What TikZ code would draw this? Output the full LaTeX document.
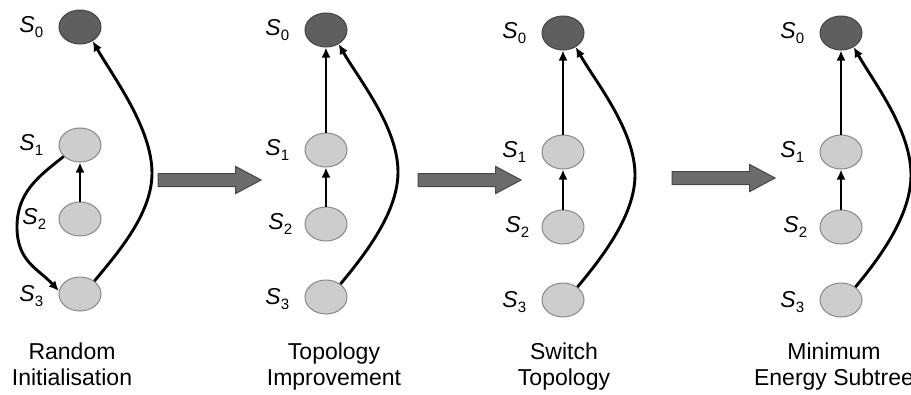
\documentclass[tikz,border=0pt]{standalone}
\usepackage{fontspec}
\setmainfont{Liberation Sans}
\usetikzlibrary{arrows.meta,shapes.geometric,shapes.arrows,calc}
\definecolor{rootfill}{HTML}{5F5F5F}
\definecolor{rootline}{HTML}{454545}
\definecolor{leaffill}{HTML}{CDCDCD}
\definecolor{leafline}{HTML}{8A8A8A}
\definecolor{bigfill}{HTML}{6C6C6C}
\definecolor{bigline}{HTML}{474747}
\newcommand\slab[1]{{\fontsize{23}{23}\selectfont\itshape S}\kern0.3pt\raisebox{-5pt}{\fontsize{15}{15}\selectfont #1}}
\tikzset{
  statenode/.style={ellipse,inner sep=0pt,minimum width=42pt,minimum height=34pt,line width=1pt},
  root/.style={statenode,fill=rootfill,draw=rootline},
  leaf/.style={statenode,fill=leaffill,draw=leafline},
  slabel/.style={anchor=east,inner sep=0pt},
  link/.style={line width=2.9pt,-{Latex[length=10pt,width=9pt]}},
  bigarrow/.style={single arrow,draw=bigline,fill=bigfill,line width=1pt,inner sep=6pt,
    single arrow head extend=7pt,single arrow tip angle=56,minimum height=103pt},
  caption/.style={align=center,anchor=north,inner sep=0pt,font=\fontsize{23}{26.5}\selectfont}
}
\newcommand\panel[6]{%
  \node[root] (#10) at (#2,#3) {};
  \node[leaf] (#11) at (#2,#4) {};
  \node[leaf] (#12) at (#2,#5) {};
  \node[leaf] (#13) at (#2,#6) {};
  \node[slabel] (#1l0) at ([xshift=-15pt]#10.west) {\slab{0}};
  \node[slabel] (#1l1) at ([xshift=-15pt]#11.west) {\slab{1}};
  \node[slabel] (#1l2) at ([xshift=-12pt]#12.west) {\slab{2}};
  \node[slabel] (#1l3) at ([xshift=-15pt,yshift=-2pt]#13.west) {\slab{3}};
}
\begin{document}
\begin{tikzpicture}[x=1pt,y=-1pt]
\useasboundingbox (0,0) rectangle (911,394);
\fill[white] (0,0) rectangle (911,394);
% panels
\panel{A}{80}{27}{145}{219}{294}
\panel{B}{326}{30}{150}{224}{297}
\panel{C}{563}{33}{152}{227}{300}
\panel{D}{841}{33}{152}{227}{300}
% panel 1 connectors
\draw[link] (A2) -- (A1);
\draw[link] (A1.215) .. controls +(-25,20) and +(0,-35) .. ($(A1)+(-63,82)$)
  .. controls +(0,35) and +(-20,-22) .. (A3.172);
\draw[link] (A3.42) .. controls +(25,-30) and +(0,40) .. ($(A0)+(72,146)$)
  .. controls +(0,-45) and +(20,35) .. (A0.-48);
% panel 2
\draw[link] (B1) -- (B0);
\draw[link] (B2) -- (B1);
\draw[link] (B3.42) .. controls +(25,-30) and +(0,40) .. ($(B0)+(72,142)$)
  .. controls +(0,-45) and +(20,35) .. (B0.-48);
% panel 3
\draw[link] (C1) -- (C0);
\draw[link] (C2) -- (C1);
\draw[link] (C3.42) .. controls +(25,-30) and +(0,40) .. ($(C0)+(72,142)$)
  .. controls +(0,-45) and +(20,35) .. (C0.-48);
% panel 4
\draw[link] (D1) -- (D0);
\draw[link] (D2) -- (D1);
\draw[link] (D3.42) .. controls +(25,-30) and +(0,40) .. ($(D0)+(70,142)$)
  .. controls +(0,-45) and +(20,35) .. (D0.-48);
% big arrows
\node[bigarrow] (t1) at (203.5,180) {};
\node[bigarrow] (t2) at (463.5,180) {};
\node[bigarrow] (t3) at (717.5,178) {};
% captions
\node[caption] (cap1) at (72,342.5) {Random\\Initialisation};
\node[caption] (cap2) at (334,342.5) {Topology\\Improvement};
\node[caption] (cap3) at (564,342.5) {Switch\\Topology};
\node[caption] (cap4) at (834,342.5) {Minimum\\Energy Subtree};
\end{tikzpicture}
\end{document}
